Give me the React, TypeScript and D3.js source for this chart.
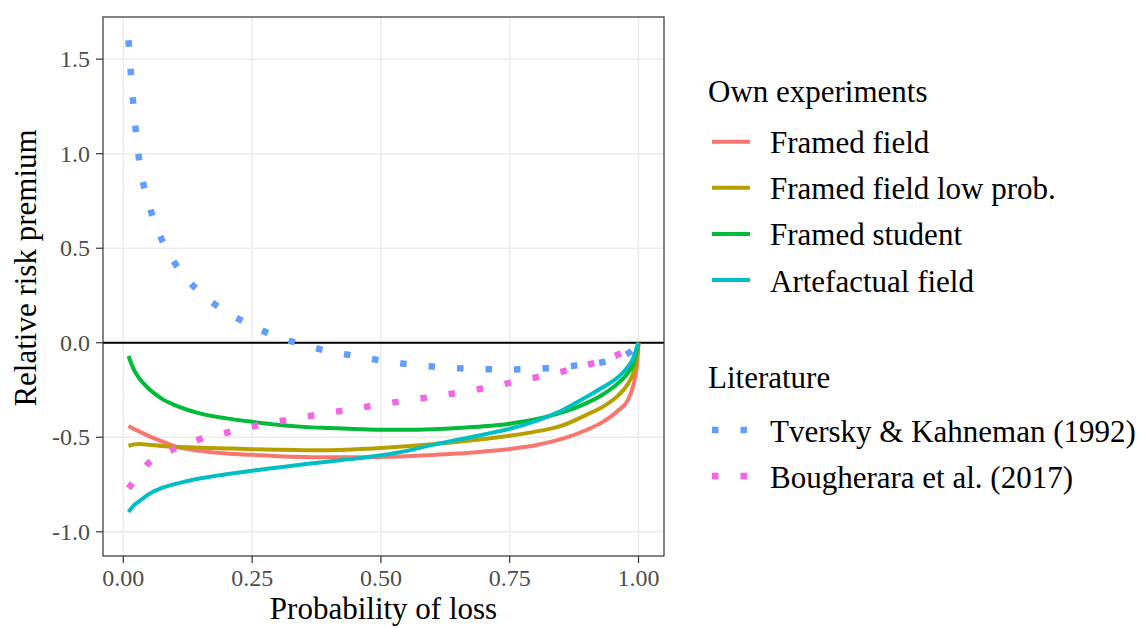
import React from "react";
import * as d3 from "d3";

const P = [0.01, 0.02, 0.03, 0.05, 0.075, 0.1, 0.15, 0.2, 0.25, 0.3, 0.35, 0.4, 0.45, 0.5, 0.55, 0.6, 0.65, 0.7, 0.75, 0.8, 0.85, 0.9, 0.93, 0.96, 0.98, 0.99, 0.995, 0.998, 1.0];

const framedField = [-0.44, -0.455, -0.468, -0.494, -0.522, -0.548, -0.572, -0.586, -0.593, -0.6, -0.604, -0.606, -0.606, -0.604, -0.6, -0.594, -0.586, -0.575, -0.562, -0.542, -0.51, -0.46, -0.42, -0.36, -0.3, -0.225, -0.16, -0.09, 0];
const framedFieldLowProb = [-0.545, -0.538, -0.536, -0.54, -0.546, -0.55, -0.555, -0.559, -0.563, -0.566, -0.568, -0.568, -0.564, -0.557, -0.548, -0.537, -0.524, -0.509, -0.492, -0.47, -0.44, -0.38, -0.34, -0.28, -0.215, -0.16, -0.11, -0.055, 0];
const framedStudent = [-0.07, -0.14, -0.185, -0.245, -0.297, -0.33, -0.375, -0.4, -0.418, -0.434, -0.445, -0.451, -0.456, -0.46, -0.46, -0.457, -0.451, -0.442, -0.428, -0.405, -0.37, -0.318, -0.275, -0.215, -0.158, -0.11, -0.06, -0.025, 0];
const artefactualField = [-0.895, -0.862, -0.84, -0.8, -0.768, -0.748, -0.717, -0.696, -0.677, -0.66, -0.643, -0.628, -0.613, -0.595, -0.572, -0.54, -0.513, -0.485, -0.455, -0.415, -0.36, -0.285, -0.237, -0.183, -0.125, -0.08, -0.04, -0.015, 0];
const tverskyKahneman = [1.6, 1.24, 0.981, 0.73, 0.543, 0.42, 0.263, 0.163, 0.09, 0.03, -0.011, -0.046, -0.07, -0.094, -0.113, -0.126, -0.135, -0.14, -0.141, -0.138, -0.129, -0.113, -0.103, -0.08, -0.055, -0.035, -0.02, -0.008, 0];
const bougherara = [-0.77, -0.735, -0.7, -0.634, -0.595, -0.56, -0.509, -0.476, -0.443, -0.417, -0.393, -0.37, -0.348, -0.326, -0.305, -0.286, -0.264, -0.24, -0.212, -0.184, -0.154, -0.117, -0.094, -0.063, -0.035, -0.018, -0.009, -0.004, 0];

const xTicks = [0, 0.25, 0.5, 0.75, 1];
const xTickLabels = ["0.00", "0.25", "0.50", "0.75", "1.00"];
const yTicks = [-1, -0.5, 0, 0.5, 1, 1.5];
const yTickLabels = ["-1.0", "-0.5", "0.0", "0.5", "1.0", "1.5"];

const ownNames = ["Framed field", "Framed field low prob.", "Framed student", "Artefactual field"];
const ownColors = ["#F8766D", "#B79F00", "#00BA38", "#00BFC4"];
const litNames = ["Tversky & Kahneman (1992)", "Bougherara et al. (2017)"];
const litColors = ["#619CFF", "#F564E3"];

const ownSeries = [framedField, framedFieldLowProb, framedStudent, artefactualField];
const litSeries = [tverskyKahneman, bougherara];

const FONT = "'Liberation Serif', 'Times New Roman', serif";

export default function App() {
  const left = 103, right = 664, top = 17, bottom = 556;
  const x = d3.scaleLinear().domain([-0.0395, 1.0495]).range([left, right]);
  const y = d3.scaleLinear().domain([-1.128, 1.723]).range([bottom, top]);
  const line = d3
    .line<number>()
    .x((_, i) => x(P[i]))
    .y((d) => y(d))
    .curve(d3.curveMonotoneX);

  const dash = "6.5 22";

  return (
    <svg width={1147} height={628} style={{ position: "absolute", left: 0, top: 0, background: "#fff" }} fontFamily={FONT}>
      <rect x={0} y={0} width={1147} height={628} fill="#fff" />
      {xTicks.map((t) => (
        <line key={"gx" + t} x1={x(t)} x2={x(t)} y1={top} y2={bottom} stroke="#EBEBEB" strokeWidth={1.5} />
      ))}
      {yTicks.map((t) => (
        <line key={"gy" + t} x1={left} x2={right} y1={y(t)} y2={y(t)} stroke="#EBEBEB" strokeWidth={1.5} />
      ))}
      <line x1={left} x2={right} y1={y(0)} y2={y(0)} stroke="#000" strokeWidth={2} />
      {ownSeries.map((s, i) => (
        <path key={"o" + i} d={line(s) || ""} fill="none" stroke={ownColors[i]} strokeWidth={4} />
      ))}
      {litSeries.map((s, i) => (
        <path key={"l" + i} d={line(s) || ""} fill="none" stroke={litColors[i]} strokeWidth={6.5} strokeDasharray={dash} />
      ))}
      <rect x={left} y={top} width={right - left} height={bottom - top} fill="none" stroke="#333" strokeWidth={1.2} />
      {xTicks.map((t, i) => (
        <g key={"tx" + t}>
          <line x1={x(t)} x2={x(t)} y1={bottom} y2={bottom + 7} stroke="#333" strokeWidth={1.2} />
          <text x={x(t)} y={586} textAnchor="middle" fontSize={24} fill="#4D4D4D">
            {xTickLabels[i]}
          </text>
        </g>
      ))}
      {yTicks.map((t, i) => (
        <g key={"ty" + t}>
          <line x1={left - 7} x2={left} y1={y(t)} y2={y(t)} stroke="#333" strokeWidth={1.2} />
          <text x={90} y={y(t) + 8} textAnchor="end" fontSize={24} fill="#4D4D4D">
            {yTickLabels[i]}
          </text>
        </g>
      ))}
      <text x={(left + right) / 2} y={619} textAnchor="middle" fontSize={31} fill="#000">
        Probability of loss
      </text>
      <text transform="translate(36,268) rotate(-90)" textAnchor="middle" fontSize={31} fill="#000">
        Relative risk premium
      </text>
      <text x={708} y={102} fontSize={31} fill="#000">Own experiments</text>
      {ownNames.map((n, i) => {
        const cy = 141.7 + i * 46.1;
        return (
          <g key={"lg" + i}>
            <line x1={712} x2={750} y1={cy} y2={cy} stroke={ownColors[i]} strokeWidth={4} />
            <text x={770} y={cy + 11.5} fontSize={31} fill="#000">{n}</text>
          </g>
        );
      })}
      <text x={708} y={388} fontSize={31} fill="#000">Literature</text>
      {litNames.map((n, i) => {
        const cy = 430 + i * 46;
        return (
          <g key={"ll" + i}>
            <line x1={712} x2={750} y1={cy} y2={cy} stroke={litColors[i]} strokeWidth={6.5} strokeDasharray={dash} />
            <text x={770} y={cy + 11.5} fontSize={31} fill="#000">{n}</text>
          </g>
        );
      })}
    </svg>
  );
}
